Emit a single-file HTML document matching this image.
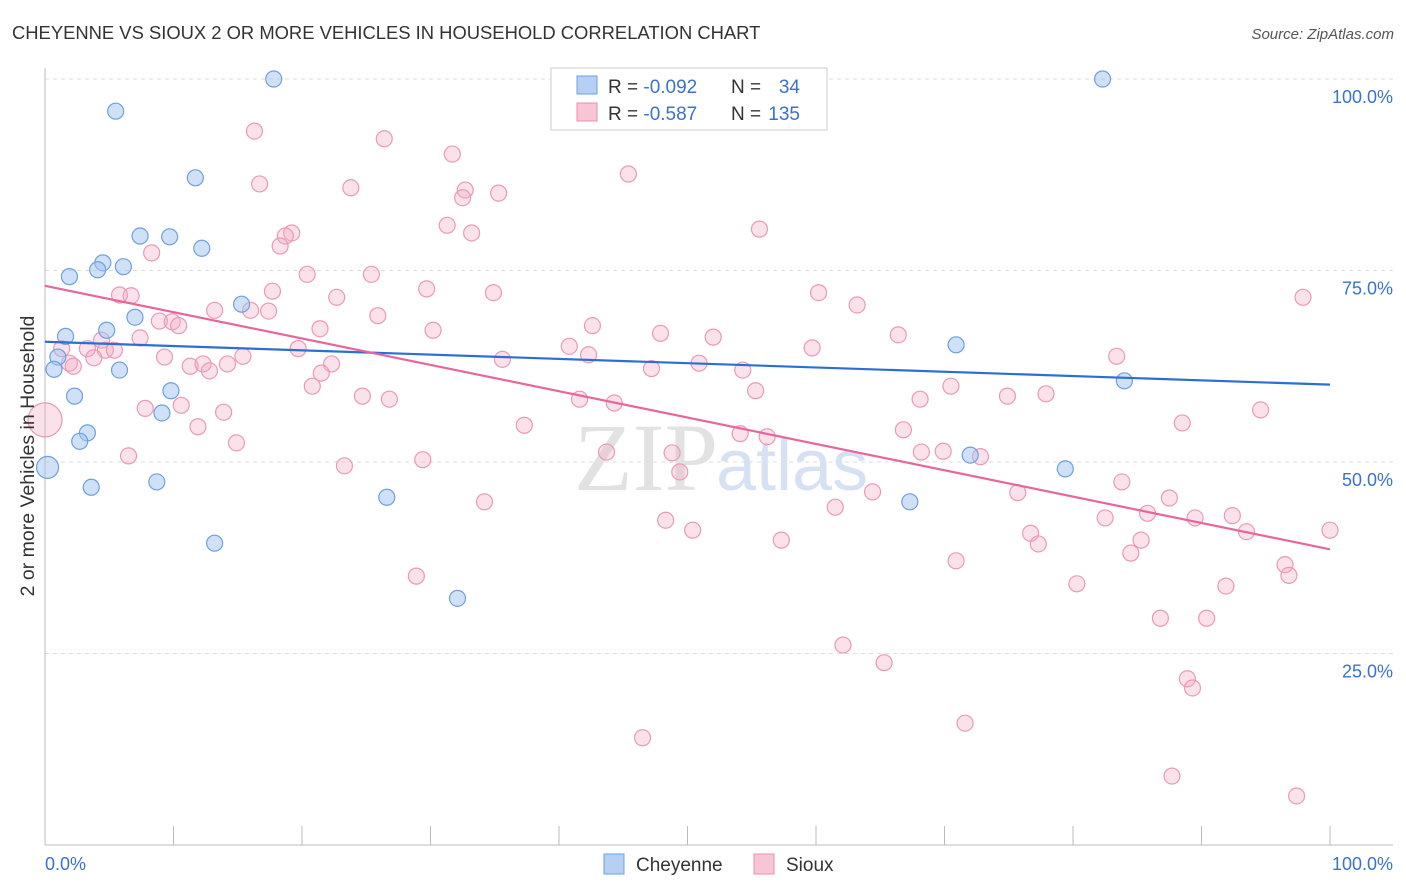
<!DOCTYPE html>
<html><head><meta charset="utf-8"><style>
body{margin:0;background:#fff;font-family:"Liberation Sans",sans-serif;}
svg{display:block}
</style></head><body>
<svg id="chart" width="1406" height="892">
<text x="12" y="39" font-size="18.4" fill="#333">CHEYENNE VS SIOUX 2 OR MORE VEHICLES IN HOUSEHOLD CORRELATION CHART</text>
<text x="1394" y="39" font-size="15" fill="#555" font-style="italic" text-anchor="end">Source: ZipAtlas.com</text>
<g id="grid"></g>
<g id="axes"></g>
<text x="718" y="490" font-size="96" fill="#e2e2e2" text-anchor="end" font-family="Liberation Serif">ZIP</text>
<text x="716" y="490" font-size="72" fill="#d6e2f3">atlas</text>
<g id="pts"></g>
<g id="trend"></g>
<text transform="translate(34,456) rotate(-90)" font-size="19.5" fill="#333" text-anchor="middle">2 or more Vehicles in Household</text>
<g>
<rect x="551" y="68" width="276" height="62" fill="#fff" stroke="#ccc"/>
<rect x="577" y="76" width="20" height="18" fill="#b5d0f3" stroke="#6f9fe0"/>
<rect x="577" y="103" width="20" height="18" fill="#f8c5d5" stroke="#e98fae"/>
<text x="608" y="93" font-size="19" fill="#333">R = <tspan fill="#3a72d0">-0.092</tspan></text>
<text x="731" y="93" font-size="19" fill="#333">N =</text>
<text x="800" y="93" font-size="19" fill="#3a72d0" text-anchor="end">34</text>
<text x="608" y="120" font-size="19" fill="#333">R = <tspan fill="#3a72d0">-0.587</tspan></text>
<text x="731" y="120" font-size="19" fill="#333">N =</text>
<text x="800" y="120" font-size="19" fill="#3a72d0" text-anchor="end">135</text>
</g>
<g>
<rect x="604" y="854" width="20" height="20" fill="#b5d0f3" stroke="#6f9fe0"/>
<text x="636" y="871" font-size="19" fill="#333">Cheyenne</text>
<rect x="754" y="854" width="20" height="20" fill="#f8c5d5" stroke="#e98fae"/>
<text x="786" y="871" font-size="19" fill="#333">Sioux</text>
</g>
</svg>
<script>
const yTicks=[25,50,75,100];
const yTickLabels=["25.0%","50.0%","75.0%","100.0%"];
const xTicks=[0,10,20,30,40,50,60,70,80,90,100];
const cheyX=[17.8,82.3,5.5,11.7,7.4,9.7,12.2,1.9,4.5,4.1,6.1,15.3,7.0,4.8,1.6,1.0,0.7,5.8,9.8,2.3,9.1,3.3,2.7,0.2,8.7,3.6,26.6,13.2,32.1,70.9,84.0,72.0,79.4,67.3];
const cheyY=[100,100,95.8,87.1,79.5,79.4,77.9,74.2,76.0,75.1,75.5,70.6,68.9,67.2,66.4,63.7,62.1,62.0,59.3,58.6,56.4,53.8,52.7,49.3,47.4,46.7,45.4,39.4,32.2,65.3,60.6,50.9,49.1,44.8];
const siouxX=[16.3,26.4,31.7,45.4,16.7,23.8,32.7,35.3,32.5,31.3,33.2,55.6,19.2,18.7,18.3,8.3,20.4,25.4,29.7,17.7,34.9,60.2,5.8,6.7,22.7,97.9,63.2,13.2,16.0,17.4,25.9,8.9,9.9,10.4,42.6,21.4,30.2,47.9,66.4,52.0,4.4,7.4,59.7,40.8,19.7,1.3,3.3,4.7,5.4,15.4,9.3,42.3,83.4,3.8,35.6,1.9,50.9,11.3,12.3,14.2,22.3,2.2,47.2,54.3,12.8,21.5,20.8,70.5,55.3,77.9,24.7,74.9,26.8,68.1,41.6,44.3,7.8,10.6,13.9,94.6,0,11.9,37.3,88.5,66.8,54.1,56.2,14.9,43.7,68.2,69.9,72.8,48.8,6.5,29.4,23.3,49.4,83.8,64.4,75.7,87.5,34.2,61.5,85.8,92.4,82.5,89.5,48.3,50.4,100,76.7,93.5,57.3,85.3,77.3,84.5,70.9,96.5,96.8,28.9,80.3,91.9,86.8,90.4,62.1,65.3,88.9,89.3,71.6,46.5,87.7,97.4];
const siouxY=[93.2,92.2,90.2,87.6,86.3,85.8,85.5,85.1,84.5,80.9,79.9,80.4,79.9,79.5,78.2,77.3,74.5,74.5,72.6,72.3,72.1,72.1,71.8,71.7,71.5,71.5,70.5,69.8,69.8,69.7,69.1,68.4,68.3,67.8,67.8,67.4,67.2,66.8,66.6,66.3,65.9,66.2,64.9,65.1,64.8,64.8,64.8,64.6,64.6,63.8,63.7,64.0,63.8,63.6,63.4,62.9,62.9,62.5,62.8,62.8,62.8,62.5,62.2,62.0,61.9,61.6,59.9,59.9,59.3,58.9,58.6,58.6,58.2,58.2,58.2,57.7,57.0,57.4,56.5,56.8,55.5,54.6,54.8,55.1,54.2,53.7,53.3,52.5,51.3,51.3,51.4,50.7,51.2,50.8,50.3,49.5,48.7,47.4,46.1,46.0,45.3,44.8,44.1,43.3,43.0,42.7,42.7,42.4,41.1,41.1,40.7,40.9,39.8,39.8,39.3,38.1,37.1,36.6,35.2,35.1,34.1,33.8,29.6,29.6,26.1,23.8,21.7,20.5,15.9,14.0,9.0,6.4];
const cheyTrend=[65.7,60.1];
const siouxTrend=[73.0,38.6];
const NS="http://www.w3.org/2000/svg";
const X=v=>45+v*12.85, Y=v=>845-v*7.66;
function mk(t,a,p){const e=document.createElementNS(NS,t);for(const k in a)e.setAttribute(k,a[k]);p.appendChild(e);return e;}
const grid=document.getElementById('grid'),axes=document.getElementById('axes');
yTicks.forEach((t,i)=>{
 const l=mk('line',{x1:45,x2:1393,y1:Y(t),y2:Y(t),stroke:'#ddd','stroke-dasharray':'4,4'},grid);
 
 
 const tx=mk('text',{x:1393,y:Y(t)+24,'font-size':18,fill:'#3a72d0','text-anchor':'end'},axes);
 tx.textContent=yTickLabels[i];
 
 
});
mk('line',{x1:45,x2:45,y1:68,y2:845,stroke:'#bbb'},axes);
mk('line',{x1:45,x2:1393,y1:845,y2:845,stroke:'#bbb'},axes);
xTicks.forEach(t=>{
 const l=mk('line',{x1:X(t),x2:X(t),y1:826,y2:845,stroke:'#bbb'},axes);
 
 
});
const a0=mk('text',{x:45,y:870,'font-size':18,fill:'#3a72d0'},axes);a0.textContent='0.0%';


const a1=mk('text',{x:1393,y:870,'font-size':18,fill:'#3a72d0','text-anchor':'end'},axes);a1.textContent='100.0%';


const pts=document.getElementById('pts');
siouxX.forEach((x,i)=>{
 const r=(x===0)?17:8;
 const c=mk('circle',{cx:X(x),cy:Y(siouxY[i]),r:r,fill:'rgba(244,170,195,0.35)',stroke:'#ea9ab5','stroke-width':1.2},pts);
 
 
});
cheyX.forEach((x,i)=>{
 const r=(x<0.5)?11:8;
 const c=mk('circle',{cx:X(x),cy:Y(cheyY[i]),r:r,fill:'rgba(160,195,240,0.5)',stroke:'#6f9fe0','stroke-width':1.2},pts);
 
 
});
const tr=document.getElementById('trend');
const l1=mk('line',{x1:X(0),y1:Y(cheyTrend[0]),x2:X(100),y2:Y(cheyTrend[1]),stroke:'#2b6fd6','stroke-width':2.2},tr);


const l2=mk('line',{x1:X(0),y1:Y(siouxTrend[0]),x2:X(100),y2:Y(siouxTrend[1]),stroke:'#e8669a','stroke-width':2.2},tr);


</script>
</body></html>
